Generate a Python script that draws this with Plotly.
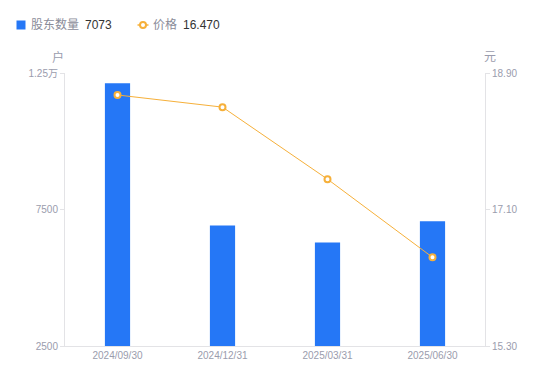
import plotly.graph_objects as go

categories = ["2024/09/30", "2024/12/31", "2025/03/31", "2025/06/30"]
holders = [12120, 6910, 6290, 7073]
prices = [18.61, 18.45, 17.50, 16.47]
left_ticks = [2500, 7500, 12500]
left_labels = ["2500", "7500", "1.25万"]
right_ticks = [15.30, 17.10, 18.90]
right_labels = ["15.30", "17.10", "18.90"]
series_names = ["股东数量", "价格"]

FONT = "Liberation Sans, Noto Sans CJK SC, sans-serif"
GREY = "#9a9cad"
LEG_GREY = "#8a8c99"
DARK = "#333333"
BLUE = "#2577f6"
ORANGE = "#f6b03a"

# page body has an 8px margin, so the figure is 542x373
W, H = 542, 373
ML, MR, MT, MB = 57, 65, 65, 35
PW, PH = W - ML - MR, H - MT - MB
OFF = 8


def px(xv):  # viewport x pixel -> paper x
    return (xv - OFF - ML) / PW


def py(yv):  # viewport y pixel -> paper y
    return 1 - (yv - OFF - MT) / PH


fig = go.Figure()
fig.add_trace(go.Bar(
    x=categories, y=holders, yaxis="y", name=series_names[0],
    marker=dict(color=BLUE, line=dict(width=0)),
    width=0.24,
))
fig.add_trace(go.Scatter(
    x=categories, y=prices, yaxis="y2", mode="lines+markers", name=series_names[1],
    line=dict(color=ORANGE, width=1),
    marker=dict(size=6, color="white", line=dict(color=ORANGE, width=2)),
))

leg_y = py(25)
annotations = [
    dict(text="户", x=px(58), y=py(57)),
    dict(text="元", x=px(490), y=py(57)),
]
for a in annotations:
    a.update(xref="paper", yref="paper", showarrow=False, xanchor="center",
             yanchor="middle", font=dict(size=12, color=GREY))

legend_items = [
    (series_names[0], LEG_GREY, 30.5),
    (str(holders[-1]), DARK, 84.5),
    (series_names[1], LEG_GREY, 152.5),
    (f"{prices[-1]:.3f}", DARK, 182.5),
]
for txt, col, xv in legend_items:
    annotations.append(dict(text=txt, x=px(xv), y=leg_y, xref="paper", yref="paper",
                            showarrow=False, xanchor="left", yanchor="middle",
                            xshift=-2, font=dict(size=12, color=col, family=FONT)))

shapes = [
    dict(type="rect", xref="paper", yref="paper", x0=px(16.5), x1=px(25.5),
         y0=py(20.5), y1=py(29.5), fillcolor=BLUE, line=dict(width=0)),
    dict(type="line", xref="paper", yref="paper", x0=px(137.5), x1=px(148.5),
         y0=leg_y, y1=leg_y, line=dict(color=ORANGE, width=1.5)),
    dict(type="circle", xref="paper", yref="paper", x0=px(140), x1=px(146),
         y0=py(22), y1=py(28), fillcolor="white", line=dict(color=ORANGE, width=2)),
]

fig.update_layout(
    width=W, height=H,
    margin=dict(l=ML, r=MR, t=MT, b=MB, autoexpand=False),
    paper_bgcolor="white", plot_bgcolor="white",
    font=dict(family=FONT, size=11, color=GREY),
    showlegend=False,
    bargap=0.76,
    xaxis=dict(type="category", showgrid=False, showline=True,
               linecolor="#e3e3e6", linewidth=1, ticks="",
               tickfont=dict(size=10, color=GREY), zeroline=False, automargin=False),
    yaxis=dict(range=[2500, 12500], tickvals=left_ticks, ticktext=left_labels,
               showgrid=False, showline=True, linecolor="#e3e3e6", linewidth=1,
               ticks="outside", ticklen=4, tickcolor="#e3e3e6",
               tickfont=dict(size=10, color=GREY), zeroline=False, automargin=False),
    yaxis2=dict(range=[15.30, 18.90], tickvals=right_ticks, ticktext=right_labels,
                overlaying="y", side="right",
                showgrid=False, showline=True, linecolor="#e3e3e6", linewidth=1,
                ticks="outside", ticklen=4, tickcolor="#e3e3e6",
                tickfont=dict(size=10, color=GREY), zeroline=False, automargin=False),
    annotations=annotations,
    shapes=shapes,
)

fig.write_html("out.html")
